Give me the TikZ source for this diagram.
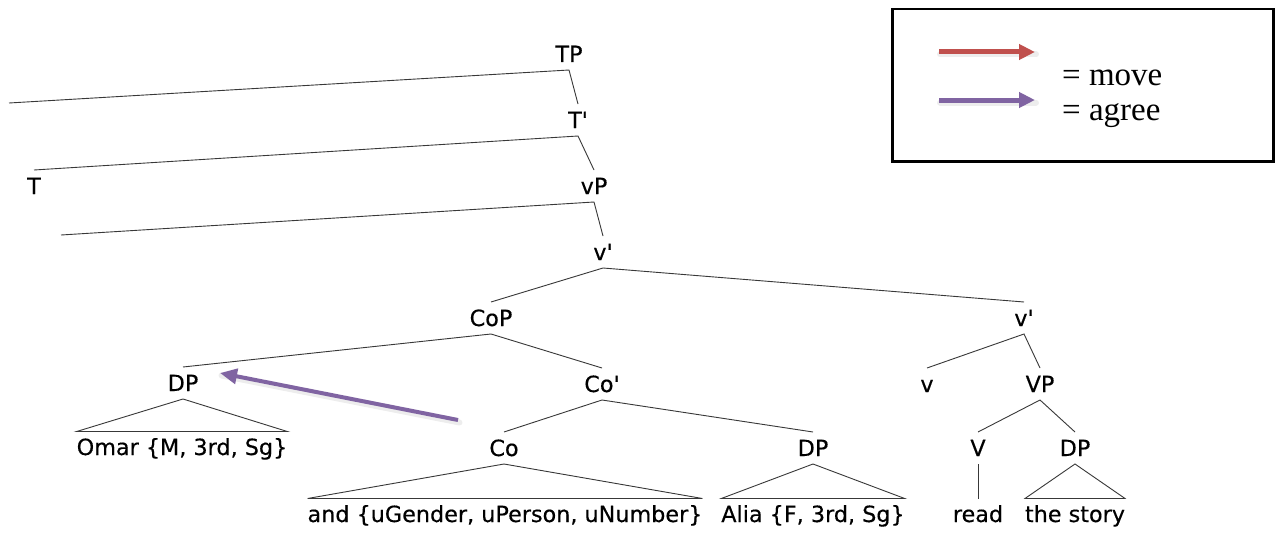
\documentclass[tikz,border=0pt]{standalone}
\usepackage{fontspec}
\setmainfont{DejaVu Sans}
\newfontfamily\treefont[FakeBold=0.35]{DejaVu Sans}
\newfontfamily\legfont{Liberation Serif}
\usetikzlibrary{arrows.meta}
\definecolor{movered}{RGB}{192,80,77}
\definecolor{agreepurple}{RGB}{128,100,162}
\newcommand{\ap}{\textquotesingle}
\begin{document}
\begin{tikzpicture}[x=1pt,y=-1pt,
  lab/.style={font=\treefont\fontsize{22.3}{26}\selectfont, inner xsep=0pt, inner ysep=0pt,
    text height=16pt, text depth=0pt, outer ysep=8pt, outer xsep=0pt, anchor=base},
  leafnode/.style={font=\treefont\fontsize{22.3}{26}\selectfont, inner sep=0pt,
    text height=23.5pt, text depth=0pt, outer sep=0pt, anchor=base},
  br/.style={line width=0.9pt, draw=black!78},
  legarrow/.style={line width=5pt, -{Triangle[length=16pt,width=15pt]}},
  shadowline/.style={line width=6pt, draw=black, opacity=0.07, line cap=round},
  legtext/.style={font=\legfont\fontsize{33}{36}\selectfont, inner sep=0pt, anchor=base west},
]
\path[use as bounding box, fill=white] (0,0) rectangle (1280,535);

% nodes
\node[lab] (TP) at (569,62) {TP};
\node[lab] (Tbar) at (578,128) {T\ap};
\node[lab] (T) at (34,194) {T};
\node[lab] (vP) at (594,194) {vP};
\node[lab] (vbar) at (603,260) {v\ap};
\node[lab] (CoP) at (491,326) {CoP};
\node[lab] (DPa) at (183,391) {DP};
\node[lab] (Cobar) at (602,392) {Co\ap};
\node[lab] (vbarb) at (1024,326) {v\ap};
\node[lab] (v) at (927,392) {v};
\node[lab] (VP) at (1040,392) {VP};
\node[lab] (Co) at (504,456) {Co};
\node[lab] (DPb) at (813,456) {DP};
\node[lab] (V) at (978,456) {V};
\node[lab] (DPc) at (1075,456) {DP};

\node[leafnode] (omar) at (182,455) {Omar \{M, 3rd, Sg\}};
\node[leafnode] (andl) at (505,522) {and \{uGender, uPerson, uNumber\}};
\node[leafnode] (alia) at (813,522) {Alia \{F, 3rd, Sg\}};
\node[leafnode] (read) at (978,522) {read};
\node[leafnode] (story) at (1075,522) {the story};

\coordinate (e1) at (9,103);
\coordinate (e2) at (61,235);

% branches
\draw[br] (e1) -- (TP.south) -- (Tbar.north);
\draw[br] (T.north) -- (Tbar.south) -- (vP.north);
\draw[br] (e2) -- (vP.south) -- (vbar.north);
\draw[br] (CoP.north) -- (vbar.south) -- (vbarb.north);
\draw[br] (DPa.north) -- (CoP.south) -- (Cobar.north);
\draw[br] (Co.north) -- (Cobar.south) -- (DPb.north);
\draw[br] (v.north) -- (vbarb.south) -- (VP.north);
\draw[br] (V.north) -- (VP.south) -- (DPc.north);
\draw[br] (V.south) -- (read.north);

% triangles
\draw[br] (DPa.south) -- (omar.north west) -- (omar.north east) -- cycle;
\draw[br] (Co.south) -- (andl.north west) -- (andl.north east) -- cycle;
\draw[br] (DPb.south) -- (alia.north west) -- (alia.north east) -- cycle;
\draw[br] (DPc.south) -- (story.north west) -- (story.north east) -- cycle;

% agree arrow
\coordinate (agreeTail) at (458,420);
\coordinate (agreeTip) at (220,373);
\draw[shadowline] ([shift={(1.5,2.5)}]agreeTail) -- ([shift={(1.5,2.5)}]agreeTip);
\draw[line width=4pt, agreepurple, -{Triangle[length=17pt,width=15pt]}] (agreeTail) -- (agreeTip);

% legend
\node[draw, line width=2.5pt, minimum width=381pt, minimum height=152pt, inner sep=0pt, anchor=north west] (legend) at (891,8) {};
\coordinate (m1) at (939,52);
\coordinate (m2) at (1035,52);
\coordinate (a1) at (939,100);
\coordinate (a2) at (1035,100);
\draw[shadowline] ([shift={(1,2.5)}]m1) -- ([shift={(1,2.5)}]m2);
\draw[shadowline] ([shift={(1,2.5)}]a1) -- ([shift={(1,2.5)}]a2);
\draw[legarrow, movered] (m1) -- (m2);
\draw[legarrow, agreepurple] (a1) -- (a2);
\node[legtext] (movetxt) at (1062,85) {= move};
\node[legtext] (agreetxt) at (1062,120) {= agree};
\end{tikzpicture}
\end{document}
